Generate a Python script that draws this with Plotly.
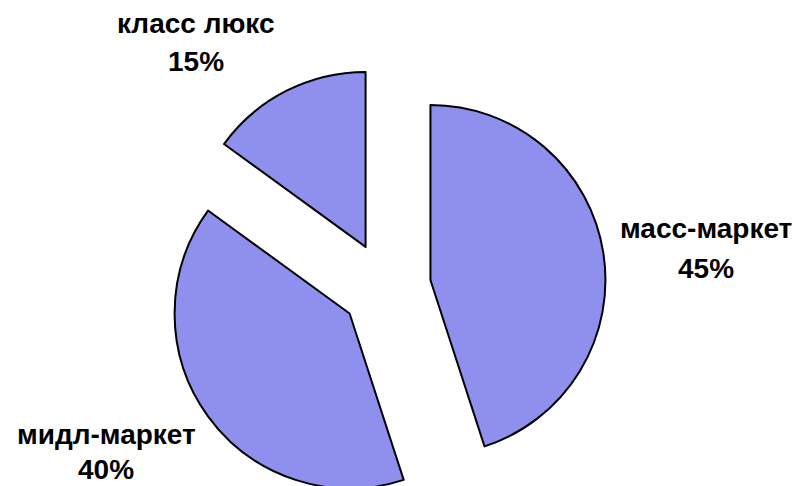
import plotly.graph_objects as go

# Market segments and their shares, %
segments = ["масс-маркет", "мидл-маркет", "класс люкс"]
shares = [45, 40, 15]

# Label anchor points (pixels from top-left) for the outside captions
label_x = [706, 106, 196]
name_y = [228, 434, 24]
pct_y = [268, 469, 62]

W, H = 806, 530

fig = go.Figure(
    go.Pie(
        labels=segments,
        values=shares,
        sort=False,
        direction="clockwise",
        rotation=0,
        pull=[0.257, 0.257, 0.257],
        textinfo="none",
        hoverinfo="label+percent",
        marker=dict(colors=["#8f8fee"] * 3, line=dict(color="#000000", width=2)),
        domain=dict(x=[166 / W, 606 / W], y=[1 - 507 / H, 1 - 67 / H]),
        showlegend=False,
    )
)

font = dict(family="Liberation Sans, Arial, sans-serif", size=28, color="#000000")
for name, val, x, y1, y2 in zip(segments, shares, label_x, name_y, pct_y):
    fig.add_annotation(text=f"<b>{name}</b>", x=x / W, y=1 - y1 / H, xref="paper", yref="paper",
                       showarrow=False, font=font, xanchor="center", yanchor="middle")
    fig.add_annotation(text=f"<b>{val}%</b>", x=x / W, y=1 - y2 / H, xref="paper", yref="paper",
                       showarrow=False, font=font, xanchor="center", yanchor="middle")

fig.update_layout(
    width=W,
    height=H,
    margin=dict(l=0, r=0, t=0, b=0),
    paper_bgcolor="#ffffff",
    plot_bgcolor="#ffffff",
)

fig.write_html(
    "out.html",
    post_script="document.documentElement.style.overflow='hidden';document.body.style.overflow='hidden';document.body.style.margin='0';",
)
